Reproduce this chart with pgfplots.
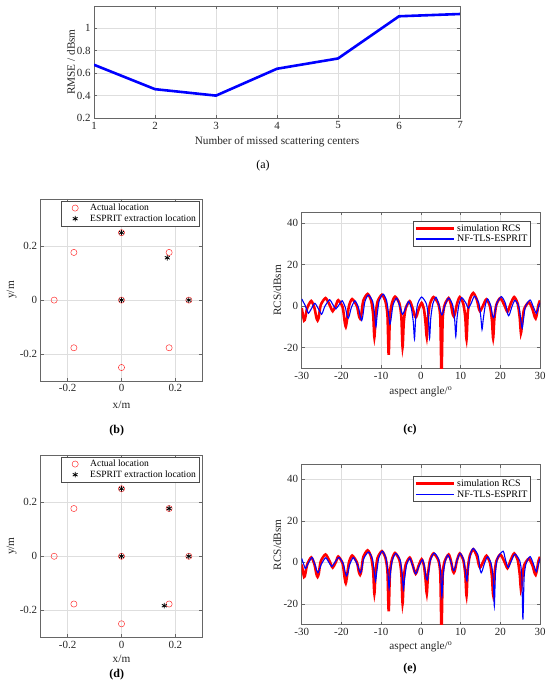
\documentclass[border=0pt]{standalone}
\usepackage{fontspec}
\setmainfont{Liberation Serif}
\usepackage{pgfplots}
\pgfplotsset{compat=1.18}
\usepackage{pgfplotstable}

\pgfplotstableread{
x y
-30 -1
-29.4 -7
-29.1 -5.6
-28.6 -0.9
-27.6 2.4
-26.8 -0.9
-26.3 -5.6
-26.0 -7
-25.7 -5.4
-25.2 0.5
-24.0 3.8
-23.0 0.65
-22.5 -1.56
-22.2 -2.5
-21.9 -1.7
-21.4 0.15
-20.8 2.8
-19.7 -0.5
-19.2 -7.2
-18.9 -10
-18.6 -6.7
-18.1 0
-17.3 3.3
-16.1 0
-15.6 -4.6
-15.3 -6
-15.0 -4.2
-14.5 2.5
-13.4 5.8
-12.5 2.5
-12.0 -4.2
-11.7 -15
-11.4 -4.6
-10.9 2.1
-9.8 5.4
-8.9 2.1
-8.4 -4.6
-8.1 -23.5
-7.8 -5.5
-7.3 1.2
-6.5 4.5
-5.4 1.2
-4.9 -5.5
-4.6 -19.7
-4.3 -7.7
-3.8 -1.0
-2.8 2.3
-2.1 -1.0
-1.6 -4.3
-1.3 -5.5
-1.0 -4.45
-0.6 -1.8
0.2 1.5
0.8 -1.8
1.2 -8.5
1.5 -15
1.8 -5.7
2.3 1.0
3.2 4.3
4.4 1.0
4.9 -5.7
5.2 -33
5.5 -6.2
6.0 0.5
7.0 3.8
7.6 0.5
8.0 -3.7
8.3 -5
8.6 -3.6
9.1 1.0
9.8 4.3
10.7 1.0
11.2 -5.7
11.5 -16
11.8 -3.7
12.3 3.0
13.2 6.3
14.1 3.0
14.6 -1.2
14.9 -2.5
15.2 -1.65
15.7 0.35
16.5 3.2
17.4 -0.1
17.9 -6.8
18.2 -15.5
18.5 -6.2
19.0 0.5
20.0 3.8
21.0 0.5
21.5 -1.8
21.8 -2.8
22.1 -1.7
22.6 1.0
23.5 4.3
24.4 1.0
24.9 -5.7
25.2 -13
25.5 -8.2
26.0 -1.5
27.2 1.8
28.1 -1.5
28.6 -4.8
28.9 -6
29.2 -4
29.6 0.5
30 2.7
}\simrcs

\pgfplotstableread{
x y
-30 3.4
-29.1 0.1
-28.6 -2.5
-28.3 -3.5
-28.0 -2.8
-27.5 -1.1
-26.7 1.3
-25.8 -1.35
-25.3 -3.2
-25.0 -4
-24.7 -2.95
-24.2 -0.3
-23.0 3
-22.2 0.8
-21.7 -0.74
-21.4 -1.4
-21.1 -0.8
-20.6 0.55
-19.8 2.5
-19.0 -0.8
-18.6 -4.6
-18.3 -5.9
-18.0 -4.6
-17.5 -0.8
-16.6 2.5
-15.7 -0.8
-15.2 -5.6
-14.9 -7
-14.6 -4.7
-14.1 2.0
-13.2 5.3
-12.1 2.0
-11.6 -4.7
-11.3 -10
-11.0 -4.3
-10.5 2.4
-9.5 5.7
-8.6 2.4
-8.1 -4.3
-7.8 -8.8
-7.5 -6.2
-7.0 0.5
-6.1 3.8
-5.4 0.5
-4.9 -2.8
-4.6 -4
-4.3 -3.1
-3.8 -0.9
-3.1 2.2
-2.4 -1.1
-1.9 -7.8
-1.6 -16
-1.3 -5.7
-0.8 1.0
0.2 4.3
1.4 1.0
1.9 -5.7
2.2 -15.5
2.5 -5.8
3.0 0.9
3.8 4.2
4.5 0.9
5.0 -3.0
5.3 -4.3
5.6 -3.1
6.1 0.5
7.0 3.8
8.0 0.5
8.5 -6.2
8.8 -14.7
9.1 -6
9.6 0.7
10.3 4
11.3 1.5
11.7 -0.25
12.0 -1
12.3 -0.15
12.8 1.85
13.5 4.7
14.6 1.4
15.1 -5.3
15.4 -11.3
15.7 -6.6
16.2 0.1
16.8 3.4
17.6 0.1
18.0 -4.25
18.3 -5.6
18.6 -4.1
19.1 1.2
20.3 4.5
21.3 1.2
21.8 -3.3
22.1 -4.7
22.4 -3.6
22.9 -0.5
23.7 2.8
24.7 -0.5
25.2 -7.2
25.5 -10.7
25.8 -7.1
26.3 -0.4
27.5 2.9
28.3 -0.35
28.8 -2.6
29.1 -3.6
29.4 -2.0
29.7 0
30 1.5
}\espritc

\pgfplotstableread{
x y
-30 1.9
-29.4 -1.5
-29.1 -3
-28.8 -2.2
-28.3 -0.3
-27.4 2.4
-26.7 -0.9
-26.2 -3.9
-25.9 -5
-25.6 -3.9
-25.1 -1.1
-24.0 2.2
-23.2 0.1
-22.7 -1.4
-22.4 -2
-22.1 -1.3
-21.6 0.2
-20.6 2.4
-19.5 -0.9
-19.0 -5.2
-18.7 -6.5
-18.4 -5.2
-17.9 -1.0
-17.0 2.3
-16.0 -1.0
-15.5 -3.9
-15.2 -5
-14.9 -3.5
-14.4 1.7
-13.2 5
-12.2 1.7
-11.7 -5
-11.4 -9
-11.1 -4.6
-10.6 2.1
-9.7 5.4
-8.8 2.1
-8.3 -4.6
-8.0 -12.5
-7.7 -5.7
-7.2 1.0
-6.3 4.3
-5.2 1.0
-4.7 -5.7
-4.4 -13
-4.1 -8.0
-3.6 -1.3
-2.8 2.0
-2.1 -1.3
-1.6 -4.4
-1.3 -5.5
-1.0 -4.5
-0.5 -2.0
0.4 1.3
0.9 -2.0
1.3 -7.0
1.6 -8.5
1.9 -5.5
2.4 1.2
3.4 4.5
4.5 1.2
5.0 -5.5
5.3 -16.5
5.6 -6.5
6.1 0.2
6.8 3.5
7.6 0.2
8.0 -2.9
8.3 -4
8.6 -2.8
9.1 1.0
9.9 4.3
10.8 1.0
11.3 -5.7
11.6 -9
11.9 -3.3
12.4 3.4
13.2 6.7
14.4 3.4
14.9 -3.3
15.2 -5
15.5 -3.8
16.0 -0.6
16.8 2.7
17.7 -0.6
18.2 -7.3
18.5 -21
18.8 -4.6
19.3 2.1
20.7 5.4
21.2 2.1
21.7 -1.3
22.0 -2.5
22.3 -1.5
22.8 0.75
23.7 4
24.9 0.7
25.4 -6
25.7 -27.5
26.0 -7.2
26.5 -0.5
27.5 2.8
28.3 -0.5
28.8 -3.4
29.1 -4.5
29.4 -2.5
29.7 0
30 1.9
}\esprite

\pgfplotstableread{
x y
0.25 0
0.1768 0.1768
0 0.25
-0.1768 0.1768
-0.25 0
-0.1768 -0.1768
0 -0.25
0.1768 -0.1768
0 0
}\actual

\pgfplotsset{
  mat/.style={
    scale only axis,
    anchor=south west,
    axis line style={black!60, line width=0.5pt},
    every tick/.style={black!60, line width=0.5pt},
    tick align=inside,
    major tick length=3bp,
    grid=major,
    major grid style={black!13, line width=0.5pt},
    tick label style={font=\fontsize{11}{12}\selectfont, text=black!85},
    label style={font=\fontsize{11.3}{13}\selectfont, text=black!85},
    /pgf/number format/assume math mode=true,
  },
  scat/.style={
    mat,
    xmin=-0.3, xmax=0.3, ymin=-0.3, ymax=0.375,
    xtick={-0.2,0,0.2}, ytick={-0.2,0,0.2},
    xlabel={x/m}, ylabel={y/m},
    legend style={at={(0.98,0.99)}, anchor=north east, draw=black!70,
      font=\fontsize{9.6}{10}\selectfont, inner sep=1pt, row sep=-1.5pt,
      legend cell align=left},
    legend image code/.code={\path[draw=none, fill=none] (0bp,-3bp) rectangle (26bp,3bp);
      \draw[mark repeat=2, mark phase=2, #1] plot coordinates {(0bp,0bp) (13bp,0bp) (26bp,0bp)};},
  },
  rcs/.style={
    mat,
    xmin=-30, xmax=30, ymin=-30,
    xtick={-30,-20,...,30}, ytick={-20,0,20,40},
    xlabel={aspect angle/\textsuperscript{o}}, ylabel={RCS/dBsm},
    legend style={anchor=north east, draw=black!70,
      font=\fontsize{10}{11}\selectfont, inner sep=1pt, row sep=-1.5pt,
      legend cell align=left},
    legend image code/.code={\draw[#1, line cap=butt] (0bp,0bp) -- (38bp,0bp);},
  },
}

\begin{document}
\begin{tikzpicture}
\path[use as bounding box] (0,0) rectangle (550bp,691bp);

% (a)
\begin{axis}[mat, at={(94bp,572.7bp)}, width=366bp, height=112.3bp,
  xmin=1, xmax=7, ymin=0.2, ymax=1.195,
  xtick={1,2,3,4,5,6,7}, ytick={0.2,0.4,0.6,0.8,1},
  xlabel={Number of missed scattering centers}, ylabel={RMSE / dBsm},
  xlabel style={at={(axis description cs:0.5,-0.208)}, anchor=center},
  ylabel style={at={(axis description cs:-0.063,0.5)}, anchor=center}]
\addplot[color=blue, line width=2.6bp, line join=round] coordinates {
(1,0.674) (2,0.458) (3,0.401) (4,0.639) (5,0.730) (6,1.104) (7,1.124)};
\end{axis}

% (b)
\begin{axis}[scat, at={(40.7bp,310bp)}, width=161.6bp, height=182bp,
  xlabel style={at={(axis description cs:0.5,-0.132)}, anchor=center},
  ylabel style={at={(axis description cs:-0.18,0.5)}, anchor=center}]
\addplot[only marks, mark=o, mark size=3.1bp, color=red!80, mark options={line width=0.5pt}] table {\actual};
\addplot[only marks, mark=asterisk, mark size=2.8bp, color=black, mark options={line width=0.8pt}] coordinates {
(0,0.25) (0.170,0.157) (0,0) (0.25,0)};
\legend{Actual location, ESPRIT extraction location}
\end{axis}

% (c)
\begin{axis}[rcs, at={(301.7bp,322.7bp)}, width=238.3bp, height=155.8bp, ymax=45,
  legend style={at={(0.961,0.946)}},
  xlabel style={at={(axis description cs:0.5,-0.150)}, anchor=center},
  ylabel style={at={(axis description cs:-0.102,0.5)}, anchor=center}]
\addplot[color=red, line width=2.6bp, smooth, tension=0.4] table {\simrcs};
\addplot[color=blue, line width=1.1bp, smooth, tension=0.4] table {\espritc};
\legend{simulation RCS, NF-TLS-ESPRIT}
\end{axis}

% (d)
\begin{axis}[scat, at={(40.7bp,53.7bp)}, width=161.6bp, height=182.3bp,
  xlabel style={at={(axis description cs:0.5,-0.118)}, anchor=center},
  ylabel style={at={(axis description cs:-0.18,0.5)}, anchor=center}]
\addplot[only marks, mark=o, mark size=3.1bp, color=red!80, mark options={line width=0.5pt}] table {\actual};
\addplot[only marks, mark=asterisk, mark size=2.8bp, color=black, mark options={line width=0.8pt}] coordinates {
(0,0.25) (0.1768,0.1768) (0,0) (0.25,0) (0.159,-0.183)};
\legend{Actual location, ESPRIT extraction location}
\end{axis}

% (e)
\begin{axis}[rcs, at={(301.7bp,66.3bp)}, width=238.3bp, height=160bp, ymax=47,
  legend style={at={(0.961,0.927)}},
  xlabel style={at={(axis description cs:0.5,-0.1375)}, anchor=center},
  ylabel style={at={(axis description cs:-0.102,0.5)}, anchor=center}]
\addplot[color=red, line width=2.6bp, smooth, tension=0.4] table {\simrcs};
\addplot[color=blue, line width=1.1bp, smooth, tension=0.4] table {\esprite};
\legend{simulation RCS, NF-TLS-ESPRIT}
\end{axis}

\node[font=\fontsize{12}{14}\selectfont] at (263bp,525.3bp) {(a)};
\node[font=\fontsize{12}{14}\selectfont\bfseries] at (116.7bp,260.3bp) {(b)};
\node[font=\fontsize{12}{14}\selectfont\bfseries] at (410bp,261bp) {(c)};
\node[font=\fontsize{12}{14}\selectfont\bfseries] at (116.7bp,16.5bp) {(d)};
\node[font=\fontsize{12}{14}\selectfont\bfseries] at (410bp,22.7bp) {(e)};
\end{tikzpicture}
\end{document}
